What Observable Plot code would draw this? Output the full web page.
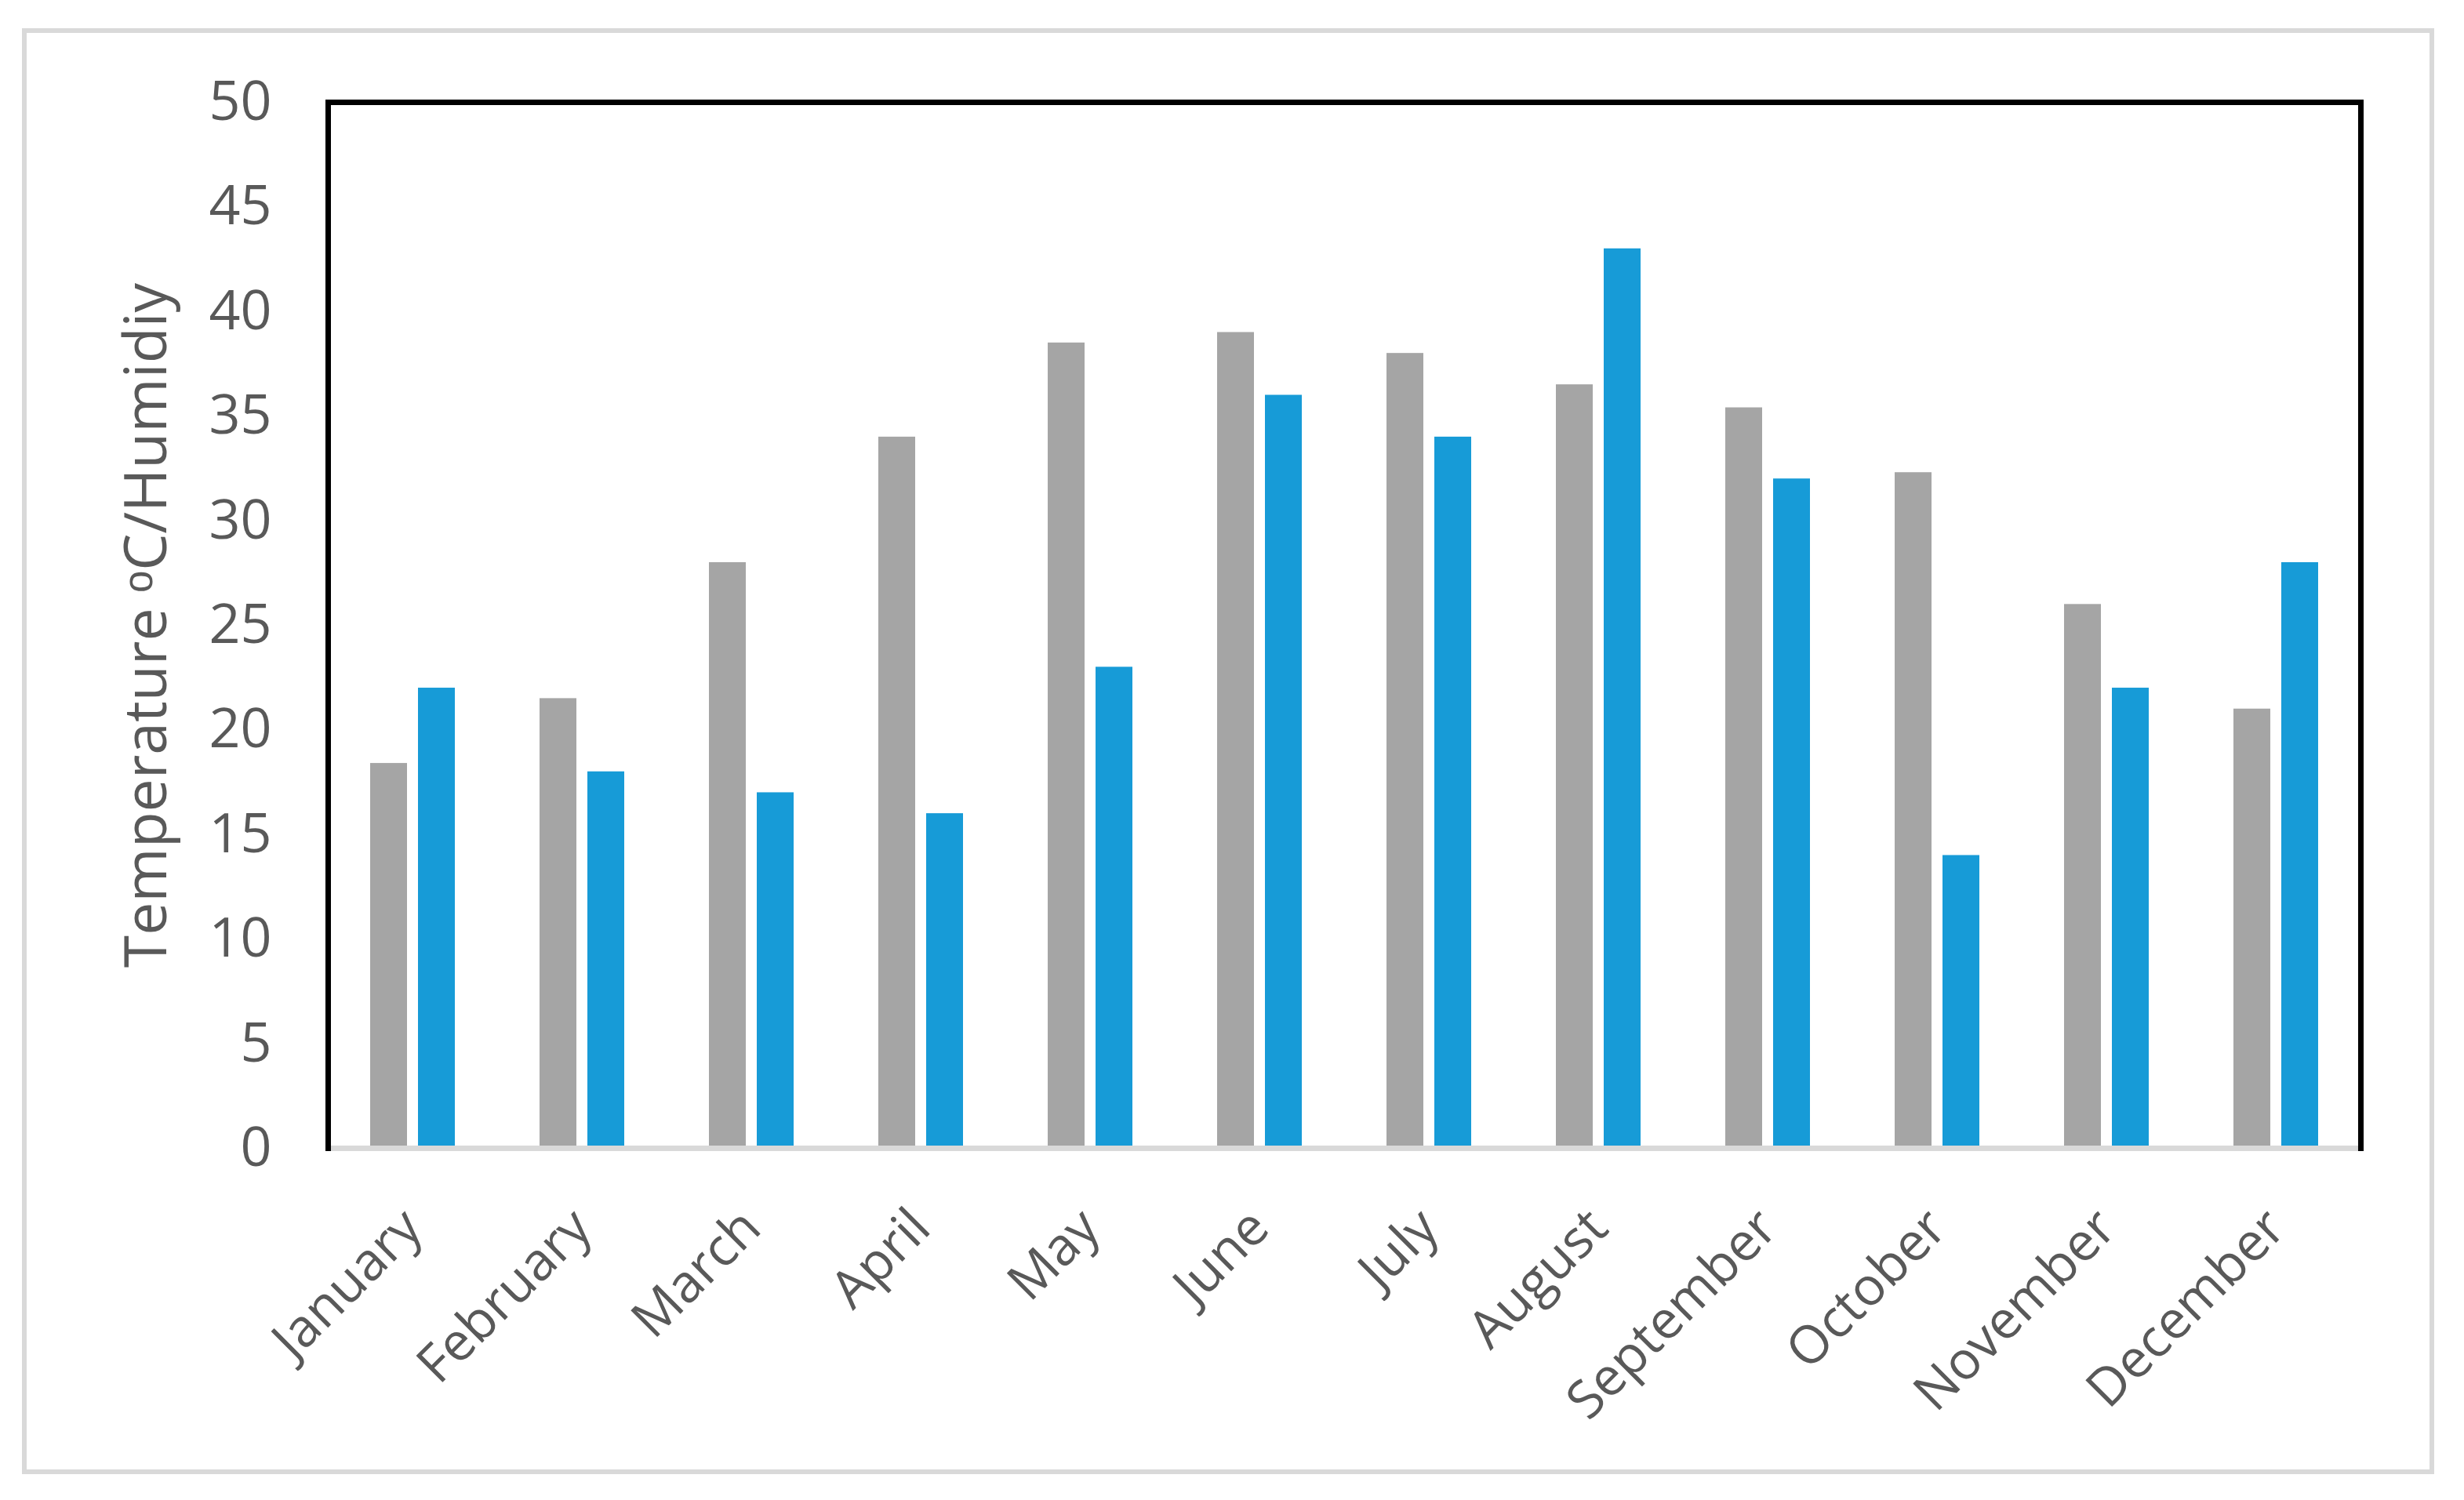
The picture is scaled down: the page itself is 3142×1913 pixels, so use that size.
<!DOCTYPE html>
<html>
<head>
<meta charset="utf-8">
<script src="https://cdn.jsdelivr.net/npm/d3@7"></script>
<script src="https://cdn.jsdelivr.net/npm/@observablehq/plot@0.6"></script>
<style>
html, body { margin: 0; padding: 0; background: #fff; }
#wrap { position: relative; width: 3142px; height: 1913px; overflow: hidden; background: #fff; }
#wrap svg { position: absolute; left: 0; top: 0; }
#border { position: absolute; left: 28px; top: 36px; width: 3064px; height: 1832px; border: 6px solid #d9d9d9; z-index: 2; pointer-events: none; }
</style>
</head>
<body>
<div id="wrap"></div>
<script>
const months = ["January", "February", "March", "April", "May", "June", "July", "August", "September", "October", "November", "December"];
const series = ["Temperature", "Humidity"];
const temperature = [18.4, 21.5, 28, 34, 38.5, 39, 38, 36.5, 35.4, 32.3, 26, 21];
const humidity = [22, 18, 17, 16, 23, 36, 34, 43, 32, 14, 22, 28];
const yTicks = [0, 5, 10, 15, 20, 25, 30, 35, 40, 45, 50];
const seriesColors = ["#a5a5a5", "#179bd7"];
const yLabel = "Temperature ᵒC/Humidiy";

const data = months.flatMap((m, i) => [
  {month: m, series: series[0], value: temperature[i]},
  {month: m, series: series[1], value: humidity[i]}
]);

const chart = Plot.plot({
  width: 3142,
  height: 1913,
  marginLeft: 417,
  marginRight: 132,
  marginTop: 130,
  marginBottom: 449,
  style: {fontFamily: "'Open Sans', sans-serif", fontSize: "67px", color: "#595959", background: "transparent"},
  fx: {domain: months, padding: 0, label: null},
  x: {domain: series, paddingInner: 0.23, paddingOuter: 0.885, align: 0.5, axis: null},
  y: {domain: [0, 50], label: null},
  color: {domain: series, range: seriesColors},
  marks: [
    Plot.barY(data, {fx: "month", x: "series", y: "value", fill: "series"}),
    Plot.ruleY([0], {stroke: "#d9d9d9", strokeWidth: 7}),
    Plot.frame({anchor: "top", facet: "super", stroke: "#000", strokeWidth: 7}),
    Plot.frame({anchor: "left", facet: "super", stroke: "#000", strokeWidth: 7}),
    Plot.frame({anchor: "right", facet: "super", stroke: "#000", strokeWidth: 7}),
    Plot.axisY({anchor: "left", ticks: yTicks, tickSize: 0, tickPadding: 72, fill: "#595959", label: null, fontSize: 70}),
    Plot.axisY({anchor: "left", ticks: [], tickSize: 0, fill: "#595959", label: yLabel, labelAnchor: "center", labelArrow: "none", labelOffset: 260, fontSize: 75}),
    Plot.axisFx({anchor: "bottom", tickRotate: -45, tickSize: 0, tickPadding: 90, fontSize: 67, fill: "#595959", label: null})
  ]
});

const wrap = document.getElementById("wrap");
wrap.appendChild(chart);
const border = document.createElement("div");
border.id = "border";
wrap.appendChild(border);
</script>
</body>
</html>
